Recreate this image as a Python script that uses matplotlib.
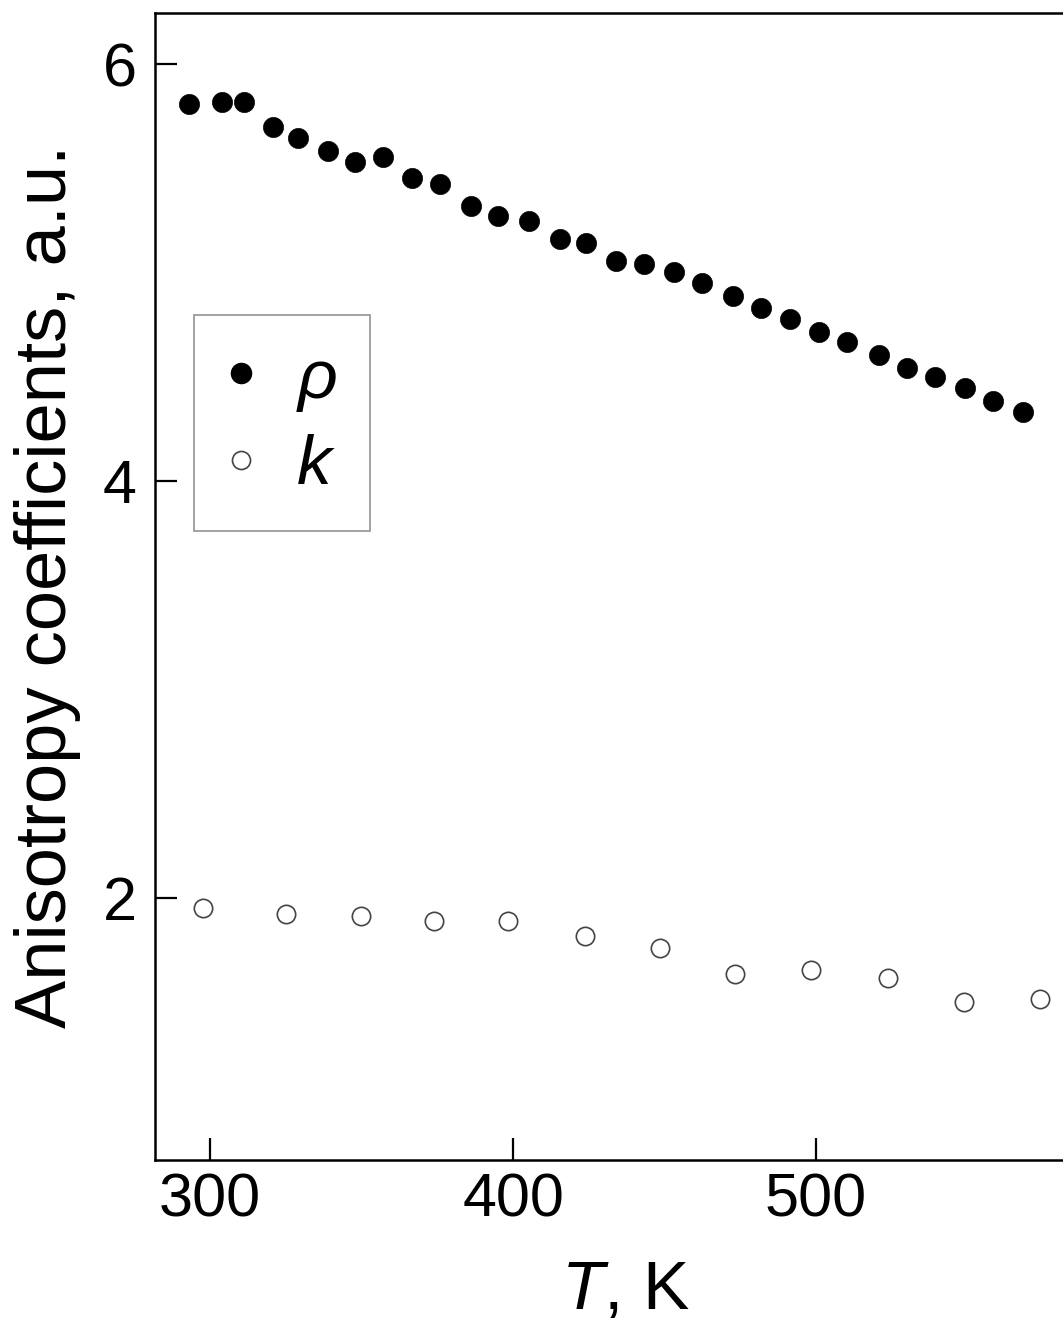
import matplotlib
matplotlib.use("Agg")
import matplotlib.pyplot as plt
from matplotlib.lines import Line2D

plt.rcParams['font.family'] = ['Liberation Sans', 'DejaVu Sans']
plt.rcParams['mathtext.fontset'] = 'custom'
plt.rcParams['mathtext.it'] = 'Liberation Sans:italic'
plt.rcParams['mathtext.rm'] = 'Liberation Sans'

# Resistivity anisotropy (rho)
T_rho = [293.1, 304.0, 311.2, 320.8, 329.0, 338.9, 347.9, 357.1, 366.7, 375.9,
         386.1, 395.0, 405.3, 415.5, 424.1, 434.0, 443.2, 453.1, 462.4, 472.6,
         481.8, 491.4, 501.0, 510.2, 520.8, 530.0, 539.3, 549.2, 558.4, 568.3]
rho = [5.810, 5.819, 5.819, 5.699, 5.647, 5.584, 5.531, 5.555, 5.455, 5.426,
       5.320, 5.272, 5.248, 5.162, 5.143, 5.056, 5.042, 5.004, 4.951, 4.888,
       4.831, 4.778, 4.716, 4.668, 4.605, 4.543, 4.500, 4.447, 4.385, 4.332]

# Thermal conductivity anisotropy (k)
T_k = [297.7, 324.9, 349.8, 373.8, 398.3, 423.6, 448.4, 473.4, 498.3, 523.6,
       548.8, 573.8]
k = [1.953, 1.925, 1.915, 1.891, 1.891, 1.821, 1.762, 1.637, 1.656, 1.618,
     1.505, 1.518]

x_ticks = [300, 400, 500]
y_ticks = [2, 4, 6]

W, H = 1063, 1326
fig = plt.figure(figsize=(W / 100, H / 100), dpi=100)
left, right, bottom, top = 155, 1110, 1160, 13
ax = fig.add_axes([left / W, 1 - bottom / H, (right - left) / W, (bottom - top) / H])

ax.plot(T_rho, rho, 'o', ms=14.5, mfc='black', mec='black', mew=0.5, ls='none')
ax.plot(T_k, k, 'o', ms=13.2, mfc='white', mec='#444444', mew=1.2, ls='none')

ax.set_xlim(281.8, 300 + (right - 210) / 3.03)
ax.set_ylim(0.745, 6.246)
ax.set_xticks(x_ticks)
ax.set_yticks(y_ticks)
ax.tick_params(direction='in', length=16, width=1.6, labelsize=44)
ax.tick_params(axis='y', pad=13)
ax.tick_params(axis='x', pad=9)
for s in ax.spines.values():
    s.set_linewidth(1.8)
ax.spines['right'].set_visible(False)

ax.set_xlabel(r'$T$, K', fontsize=50)
ax.xaxis.set_label_coords((625 - left) / (right - left), -0.086)
ax.set_ylabel('Anisotropy coefficients, a.u.', fontsize=52, labelpad=16)

handles = [
    Line2D([], [], marker='o', ls='none', ms=14.5, mfc='black', mec='black'),
    Line2D([], [], marker='o', ls='none', ms=13, mfc='white', mec='#444444', mew=1.2),
]
leg = ax.legend(handles, [r'$\rho$', r'$k$'], loc='upper left',
                bbox_to_anchor=((194 - left) / (right - left), (bottom - 315) / (bottom - top)),
                fontsize=50, frameon=True, fancybox=False, handlelength=0.4,
                handletextpad=0.6, borderpad=0.47, labelspacing=0.3,
                borderaxespad=0)
leg.get_frame().set_edgecolor('#777777')
leg.get_frame().set_linewidth(1.2)

fig.savefig('out.png', dpi=100)
